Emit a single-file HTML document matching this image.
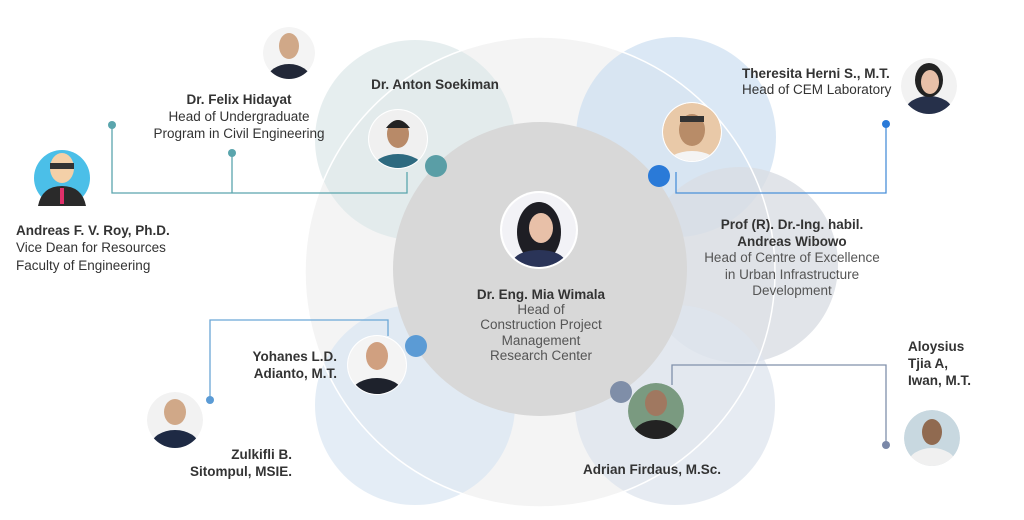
<!DOCTYPE html>
<html><head><meta charset="utf-8"><style>
html,body{margin:0;padding:0;background:#fff;}
svg{display:block;font-family:"Liberation Sans",sans-serif;}
.b{font-weight:bold;fill:#333;font-size:13.5px}
.n{fill:#333;font-size:13.5px}
.g{fill:#555;font-size:13.5px}
</style></head><body>
<svg width="1024" height="520" viewBox="0 0 1024 520">
<defs>
<clipPath id="c1"><circle cx="398" cy="139" r="29"/></clipPath>
<clipPath id="c2"><circle cx="692" cy="132" r="29"/></clipPath>
<clipPath id="c3"><circle cx="539" cy="230" r="37"/></clipPath>
<clipPath id="c4"><circle cx="377" cy="365" r="29"/></clipPath>
<clipPath id="c5"><circle cx="656" cy="411" r="28"/></clipPath>
<clipPath id="c6"><circle cx="289" cy="53" r="26"/></clipPath>
<clipPath id="c7"><circle cx="929" cy="86" r="28"/></clipPath>
<clipPath id="c9"><circle cx="175" cy="420" r="28"/></clipPath>
<clipPath id="c10"><circle cx="932" cy="438" r="28"/></clipPath>
</defs>
<circle cx="540" cy="272" r="235" fill="#f4f4f4"/>
<circle cx="415" cy="140" r="100" fill="#dde8ea" opacity="0.75"/>
<circle cx="676" cy="137" r="100" fill="#cfe0f2" opacity="0.75"/>
<circle cx="740" cy="265" r="98" fill="#d9dde3" opacity="0.8"/>
<circle cx="675" cy="405" r="100" fill="#dde4ee" opacity="0.75"/>
<circle cx="415" cy="405" r="100" fill="#dbe7f3" opacity="0.75"/>
<circle cx="540" cy="272" r="235" fill="none" stroke="#fff" stroke-width="1.5"/>
<circle cx="540" cy="269" r="147" fill="#d8d8d8"/>
<g stroke-width="1.3" fill="none">
<polyline points="407,172 407,193 112,193 112,125" stroke="#5aa5ad"/>
<line x1="232" y1="153" x2="232" y2="193" stroke="#5aa5ad"/>
<polyline points="676,172 676,193 886,193 886,124" stroke="#4a90d9"/>
<polyline points="388,336 388,320 210,320 210,400" stroke="#6aa6d6"/>
<polyline points="672,385 672,365 886,365 886,445" stroke="#8090aa"/>
</g>
<circle cx="112" cy="125" r="4" fill="#5aa5ad"/>
<circle cx="232" cy="153" r="4" fill="#5aa5ad"/>
<circle cx="886" cy="124" r="4" fill="#2a7ad8"/>
<circle cx="210" cy="400" r="4" fill="#5b9bd5"/>
<circle cx="886" cy="445" r="4" fill="#7a88a8"/>
<!-- photos -->
<g>
<circle cx="398" cy="139" r="30" fill="#fff"/><g clip-path="url(#c1)"><circle cx="398" cy="139" r="29" fill="#f0f0f0"/><ellipse cx="398" cy="170" rx="26" ry="16" fill="#2e6a80"/><ellipse cx="398" cy="134" rx="11" ry="14" fill="#b88a68"/><path d="M386 128 Q398 112 410 128 Z" fill="#222"/></g>
<circle cx="692" cy="132" r="30" fill="#fff"/><g clip-path="url(#c2)"><circle cx="692" cy="132" r="29" fill="#e9c9a8"/><ellipse cx="692" cy="165" rx="26" ry="14" fill="#f4f4f4"/><ellipse cx="692" cy="130" rx="13" ry="16" fill="#b88c68"/><rect x="680" y="116" width="24" height="6" fill="#333"/></g>
<circle cx="539" cy="230" r="39" fill="#fff"/><g clip-path="url(#c3)"><circle cx="539" cy="230" r="37" fill="#f2f2f6"/><ellipse cx="539" cy="232" rx="22" ry="30" fill="#1e1e24"/><ellipse cx="539" cy="262" rx="26" ry="12" fill="#2a3458"/><ellipse cx="541" cy="228" rx="12" ry="15" fill="#e8c0a8"/></g>
<circle cx="377" cy="365" r="30" fill="#fff"/><g clip-path="url(#c4)"><circle cx="377" cy="365" r="29" fill="#f4f4f4"/><ellipse cx="377" cy="394" rx="26" ry="16" fill="#1e222c"/><ellipse cx="377" cy="356" rx="11" ry="14" fill="#d0a080"/></g>
<g clip-path="url(#c5)"><circle cx="656" cy="411" r="28" fill="#7a9a80"/><ellipse cx="656" cy="438" rx="24" ry="18" fill="#222"/><ellipse cx="656" cy="403" rx="11" ry="13" fill="#a07860"/></g>
<g clip-path="url(#c6)"><circle cx="289" cy="53" r="26" fill="#f4f4f4"/><ellipse cx="289" cy="80" rx="22" ry="16" fill="#222838"/><ellipse cx="289" cy="46" rx="10" ry="13" fill="#d0a888"/></g>
<g clip-path="url(#c7)"><circle cx="929" cy="86" r="28" fill="#f2f2f2"/><ellipse cx="929" cy="112" rx="24" ry="16" fill="#26304a"/><ellipse cx="929" cy="80" rx="14" ry="17" fill="#222"/><ellipse cx="930" cy="82" rx="9" ry="12" fill="#e8c0a8"/></g>
<circle cx="62" cy="178" r="28" fill="#4bbfe8"/><ellipse cx="62" cy="168" rx="12" ry="15" fill="#f4d0a8"/><rect x="50" y="163" width="24" height="6" fill="#333"/><path d="M38 206 Q42 186 62 186 Q82 186 86 206 Z" fill="#2a2a2a"/><rect x="60" y="188" width="4" height="16" fill="#e0306a"/>
<g clip-path="url(#c9)"><circle cx="175" cy="420" r="28" fill="#f2f2f2"/><ellipse cx="175" cy="446" rx="24" ry="16" fill="#1e2a44"/><ellipse cx="175" cy="412" rx="11" ry="13" fill="#d0a888"/></g>
<g clip-path="url(#c10)"><circle cx="932" cy="438" r="28" fill="#c8d8e0"/><ellipse cx="932" cy="464" rx="24" ry="16" fill="#f0f0f0"/><ellipse cx="932" cy="432" rx="10" ry="13" fill="#906a50"/></g>
</g>
<circle cx="436" cy="166" r="11" fill="#5a9ea6"/>
<circle cx="659" cy="176" r="11" fill="#2a7ad8"/>
<circle cx="416" cy="346" r="11" fill="#5b9bd5"/>
<circle cx="621" cy="392" r="11" fill="#7f8ea8"/>
<text class="b" x="435" y="89" text-anchor="middle">Dr. Anton Soekiman</text>
<g text-anchor="middle">
<text class="b" x="239" y="104">Dr. Felix Hidayat</text>
<text class="n" x="239" y="121">Head of Undergraduate</text>
<text class="n" x="239" y="138">Program in Civil Engineering</text>
<text class="b" x="541" y="299">Dr. Eng. Mia Wimala</text>
<text class="g" x="541" y="314">Head of</text>
<text class="g" x="541" y="329">Construction Project</text>
<text class="g" x="541" y="345">Management</text>
<text class="g" x="541" y="360">Research Center</text>
<text class="b" x="792" y="229">Prof (R). Dr.-Ing. habil.</text>
<text class="b" x="792" y="246">Andreas Wibowo</text>
<text class="g" x="792" y="262">Head of Centre of Excellence</text>
<text class="g" x="792" y="279">in Urban Infrastructure</text>
<text class="g" x="792" y="295">Development</text>
<text class="b" x="652" y="474">Adrian Firdaus, M.Sc.</text>
</g>
<text class="b" x="742" y="78">Theresita Herni S., M.T.</text>
<text class="n" x="742" y="94">Head of CEM Laboratory</text>
<text class="b" x="16" y="235">Andreas F. V. Roy, Ph.D.</text>
<text class="n" x="16" y="252">Vice Dean for Resources</text>
<text class="n" x="16" y="270">Faculty of Engineering</text>
<g text-anchor="end">
<text class="b" x="337" y="361">Yohanes L.D.</text>
<text class="b" x="337" y="378">Adianto, M.T.</text>
<text class="b" x="292" y="459">Zulkifli B.</text>
<text class="b" x="292" y="476">Sitompul, MSIE.</text>
</g>
<text class="b" x="908" y="351">Aloysius</text>
<text class="b" x="908" y="368">Tjia A,</text>
<text class="b" x="908" y="385">Iwan, M.T.</text>
</svg>
</body></html>
